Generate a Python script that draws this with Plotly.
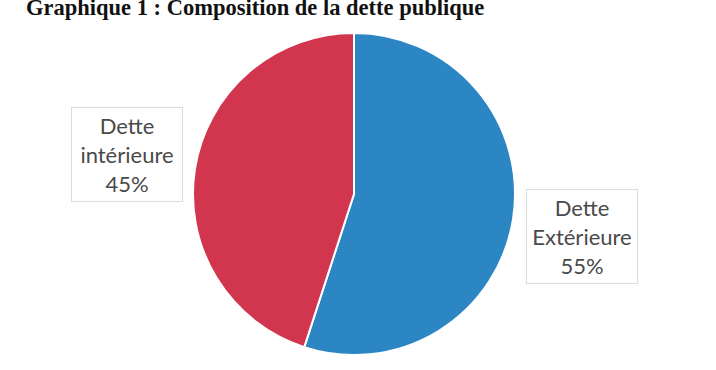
import plotly.graph_objects as go

# Composition of public debt
categories = ["Dette Extérieure", "Dette intérieure"]
label_lines = [["Dette", "Extérieure"], ["Dette", "intérieure"]]
shares = [55, 45]
colors = ["#2C86C4", "#D2364F"]

W, H = 716, 370

def px_x(x):
    return x / W

def px_y(y):
    return 1 - y / H

# pie geometry in pixels
cx, cy, r = 354, 194, 161

fig = go.Figure(
    go.Pie(
        labels=categories,
        values=shares,
        sort=False,
        direction="clockwise",
        rotation=0,
        marker=dict(colors=colors, line=dict(color="white", width=2)),
        textinfo="none",
        hoverinfo="label+percent",
        showlegend=False,
        domain=dict(x=[px_x(cx - r), px_x(cx + r)], y=[px_y(cy + r), px_y(cy - r)]),
    )
)

# data label boxes (center pixel positions)
label_pos = [(582, 236), (127, 155)]
annotations = []
for lines, val, (lx, ly) in zip(label_lines, shares, label_pos):
    annotations.append(
        dict(
            x=px_x(lx), y=px_y(ly), xref="paper", yref="paper",
            xanchor="center", yanchor="middle",
            text="<br>".join(lines + [f"{val}%"]),
            showarrow=False,
            font=dict(family="Lato", size=22, color="#4A4A4A"),
            align="center",
            bgcolor="white",
            bordercolor="#DCDCDC",
            borderwidth=1,
            borderpad=1,
            width=108,
            height=91,
        )
    )

# title, partly above the page top
annotations.append(
    dict(
        x=px_x(255), y=px_y(22), xref="paper", yref="paper",
        xanchor="center", yanchor="bottom",
        text="<b>Graphique 1 : Composition de la dette publique</b>",
        showarrow=False,
        font=dict(family="Liberation Serif", size=22.5, color="#111111"),
    )
)

fig.update_layout(
    width=W, height=H,
    margin=dict(l=0, r=0, t=0, b=0),
    paper_bgcolor="white",
    plot_bgcolor="white",
    annotations=annotations,
)

fig.write_html("out.html")
